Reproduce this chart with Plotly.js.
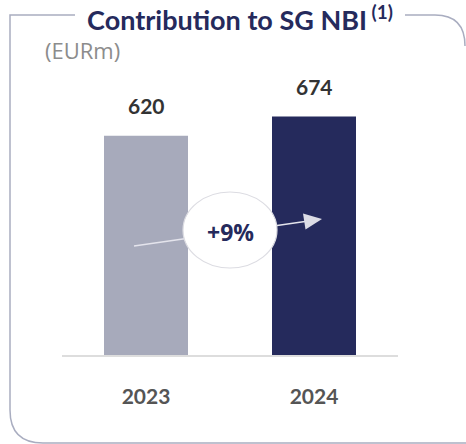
<!DOCTYPE html>
<html>
<head>
<meta charset="utf-8">
<script src="https://cdn.plot.ly/plotly-3.0.1.min.js"></script>
<style>
  html, body { margin: 0; padding: 0; background: #fff; }
  #chart { width: 466px; height: 444px; }
</style>
</head>
<body>
<div id="chart"></div>
<script>
const years = ["2023", "2024"];
const nbi = [620, 674];
const barColors = ["#a7aabb", "#252a5c"];
const growthLabel = "+9%";

// plot box in pixels (used to place the decorations)
const W = 466, H = 444;
const L = 62, R = 68, T = 72, B = 89;
const pw = W - L - R, ph = H - T - B;
const px = x => (x - L) / pw;
const py = y => (H - B - y) / ph;

function path(pts) {
  return pts.map(p => p[0] + " " + px(p[1]) + "," + py(p[2])).join(" ");
}

const frameColor = "#a9adc0";

const shapes = [
  // frame, left and bottom part
  {
    type: "path", xref: "paper", yref: "paper",
    path: "M " + px(75) + "," + py(15) + " L " + px(10) + "," + py(15) +
          " L " + px(10) + "," + py(410) +
          " Q " + px(10) + "," + py(443) + " " + px(43) + "," + py(443) +
          " L " + px(466) + "," + py(443),
    line: { color: frameColor, width: 1.5 }
  },
  // frame, top right corner
  {
    type: "path", xref: "paper", yref: "paper",
    path: "M " + px(405) + "," + py(15) + " L " + px(435) + "," + py(15) +
          " Q " + px(465) + "," + py(15) + " " + px(465) + "," + py(46),
    line: { color: frameColor, width: 1.5 }
  },
  // growth arrow
  {
    type: "line", xref: "paper", yref: "paper",
    x0: px(134), y0: py(246), x1: px(305), y1: py(221.5),
    line: { color: "#e4e4ec", width: 1.5 }
  },
  {
    type: "path", xref: "paper", yref: "paper",
    path: path([["M", 322, 219], ["L", 303, 213.5], ["L", 305.5, 229.5]]) + " Z",
    fillcolor: "#dcdce6", line: { width: 0 }
  },
  // bubble
  {
    type: "circle", xref: "paper", yref: "paper",
    x0: px(183), x1: px(277), y0: py(192), y1: py(268),
    fillcolor: "#ffffff", line: { color: "#dcdce2", width: 1.2 }
  }
];

const annotations = years.map((yr, i) => ({
  x: i, y: nbi[i], xref: "x", yref: "y",
  text: "<b>" + nbi[i] + "</b>", showarrow: false,
  yshift: 30, yanchor: "middle",
  font: { family: "Lato, sans-serif", size: 21, color: "#333333" }
}));

annotations.push({
  xref: "paper", yref: "paper", x: px(230), y: py(232),
  text: "<b>" + growthLabel + "</b>", showarrow: false,
  xanchor: "center", yanchor: "middle",
  font: { family: "Open Sans, sans-serif", size: 23, color: "#252a5c" }
});

annotations.push({
  xref: "paper", yref: "paper", x: px(43), y: py(50),
  text: "(EURm)", showarrow: false,
  xanchor: "left", yanchor: "middle",
  font: { family: "Open Sans, sans-serif", size: 22, color: "#8c8c8c" }
});

const trace = {
  type: "bar",
  x: years,
  y: nbi,
  width: 0.5,
  marker: { color: barColors },
  hoverinfo: "skip"
};

const layout = {
  width: W, height: H,
  margin: { l: L, r: R, t: T, b: B },
  paper_bgcolor: "#ffffff",
  plot_bgcolor: "#ffffff",
  showlegend: false,
  title: {
    text: "<b>Contribution to SG NBI</b><sup><b> (1)</b></sup>",
    xref: "paper", x: px(240), xanchor: "center",
    yref: "container", y: 1 - 21 / H, yanchor: "middle",
    font: { family: "Lato, sans-serif", size: 27, color: "#252a5c" }
  },
  xaxis: {
    type: "category",
    range: [-0.5, 1.5],
    showline: true, linecolor: "#dddddd", linewidth: 2,
    showgrid: false, zeroline: false,
    ticks: "", ticklabelstandoff: 22,
    tickfont: { family: "Lato, sans-serif", size: 21, color: "#555555", weight: "bold" }
  },
  yaxis: {
    range: [0, 800],
    visible: false,
    showgrid: false, zeroline: false
  },
  shapes: shapes,
  annotations: annotations
};

Plotly.newPlot("chart", [trace], layout, { displayModeBar: false, staticPlot: true });
</script>
</body>
</html>
